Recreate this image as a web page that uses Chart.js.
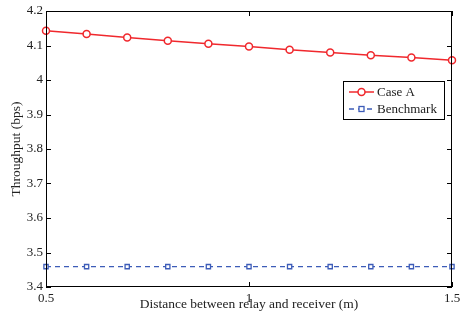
<!DOCTYPE html>
<html>
<head>
<meta charset="utf-8">
<script src="https://cdn.jsdelivr.net/npm/chart.js@4.4.0/dist/chart.umd.min.js"></script>
<style>
  body { margin: 0; background: #fff; }
  #wrap { width: 460px; height: 323px; }
</style>
</head>
<body>
<div id="wrap"><canvas id="my-chart" width="460" height="323"></canvas></div>
<script>
'use strict'
///data///
let distances = [0.5, 0.6, 0.7, 0.8, 0.9, 1.0, 1.1, 1.2, 1.3, 1.4, 1.5]
let caseA = [4.143, 4.133, 4.123, 4.114, 4.105, 4.097, 4.088, 4.080, 4.072, 4.065, 4.057]
let benchmark = [3.459, 3.459, 3.459, 3.459, 3.459, 3.459, 3.459, 3.459, 3.459, 3.459, 3.459]
let xTicks = [0.5, 1, 1.5]
let yTicks = [3.4, 3.5, 3.6, 3.7, 3.8, 3.9, 4.0, 4.1, 4.2]
let seriesNames = ['Case A', 'Benchmark']

let red = '#f0282d'
let blue = '#3d5cb8'
let font = 'Liberation Serif'

let ctx = document.getElementById('my-chart').getContext('2d')

function toPoints(vals) {
  return distances.map((d, i) => ({ x: d, y: vals[i] }))
}

///frame, inward ticks and the legend box (matlab look)
let matlabAxes = {
  id: 'matlabAxes',
  afterDatasetsDraw(chart) {
    let c = chart.ctx
    let a = chart.chartArea
    let xs = chart.scales.x
    let ys = chart.scales.y
    c.save()
    c.strokeStyle = '#000'
    c.lineWidth = 1
    c.strokeRect(a.left + 0.5, a.top + 0.5, a.right - a.left - 1, a.bottom - a.top - 1)
    c.beginPath()
    yTicks.forEach(v => {
      let py = Math.round(ys.getPixelForValue(v)) + 0.5
      c.moveTo(a.left, py); c.lineTo(a.left + 5, py)
      c.moveTo(a.right, py); c.lineTo(a.right - 5, py)
    })
    xTicks.forEach(v => {
      let px = Math.round(xs.getPixelForValue(v)) + 0.5
      c.moveTo(px, a.bottom); c.lineTo(px, a.bottom - 5)
      c.moveTo(px, a.top); c.lineTo(px, a.top + 5)
    })
    c.stroke()

    //legend
    let lx = 343, ly = 81, lw = 101, lh = 38
    c.fillStyle = '#fff'
    c.fillRect(lx, ly, lw, lh)
    c.strokeRect(lx + 0.5, ly + 0.5, lw, lh)
    let rows = [ly + 11, ly + 28]
    chart.data.datasets.forEach((ds, i) => {
      let y = rows[i]
      c.strokeStyle = ds.borderColor
      c.lineWidth = ds.borderWidth
      c.setLineDash(ds.borderDash || [])
      c.beginPath(); c.moveTo(lx + 6, y); c.lineTo(lx + 31, y); c.stroke()
      c.setLineDash([])
      c.lineWidth = ds.pointBorderWidth
      c.fillStyle = '#fff'
      if (ds.pointStyle === 'rect') {
        c.fillRect(lx + 16, y - 2.5, 5, 5)
        c.strokeRect(lx + 16, y - 2.5, 5, 5)
      } else {
        c.beginPath(); c.arc(lx + 18.5, y, ds.pointRadius, 0, Math.PI * 2)
        c.fill(); c.stroke()
      }
      c.fillStyle = '#222'
      c.font = '13px "' + font + '"'
      c.textBaseline = 'middle'
      c.fillText(ds.label, lx + 34, y + 1)
    })
    c.restore()
  }
}

let chartObject = {
  type: 'line',
  data: {
    datasets: [{
      label: seriesNames[0],
      data: toPoints(caseA),
      borderColor: red,
      borderWidth: 1.5,
      pointStyle: 'circle',
      pointRadius: 3.5,
      pointBorderWidth: 1.5,
      pointBackgroundColor: '#fff',
      pointBorderColor: red,
      clip: false
    },
    {
      label: seriesNames[1],
      data: toPoints(benchmark),
      borderColor: blue,
      borderWidth: 1.3,
      borderDash: [5, 4],
      pointStyle: 'rect',
      pointRadius: 3,
      pointBorderWidth: 1.3,
      pointBackgroundColor: '#fff',
      pointBorderColor: blue,
      clip: false
    }]
  },
  options: {
    responsive: false,
    animation: false,
    layout: { padding: { top: 11, right: 8, left: 0, bottom: 0 } },
    plugins: { legend: { display: false }, tooltip: { enabled: false } },
    scales: {
      x: {
        type: 'linear',
        min: 0.5,
        max: 1.5,
        afterFit: s => { s.height = 36 },
        afterBuildTicks: s => { s.ticks = xTicks.map(v => ({ value: v })) },
        grid: { display: false },//default tickLength still spaces the labels
        border: { display: false },
        ticks: {
          color: '#222',
          font: { family: font, size: 13 },
          padding: -4,
          maxRotation: 0,
          callback: v => String(Math.round(v * 10) / 10)
        },
        title: {
          display: true,
          text: 'Distance between relay and receiver (m)',
          color: '#222',
          font: { family: font, size: 13.5 },
          padding: { top: 0, bottom: 10 }
        }
      },
      y: {
        min: 3.4,
        max: 4.2,
        afterFit: s => { s.width = 46 },
        afterBuildTicks: s => { s.ticks = yTicks.map(v => ({ value: v })) },
        grid: { display: false, drawTicks: false },
        border: { display: false },
        ticks: {
          color: '#222',
          font: { family: font, size: 13 },
          padding: 3,
          callback: v => String(Math.round(v * 10) / 10)
        },
        title: {
          display: true,
          text: 'Throughput (bps)',
          color: '#222',
          font: { family: font, size: 13.5 },
          padding: { top: 8, bottom: 0 }
        }
      }
    }
  },
  plugins: [matlabAxes]
}

const myChart = new Chart(ctx, chartObject)
</script>
</body>
</html>
